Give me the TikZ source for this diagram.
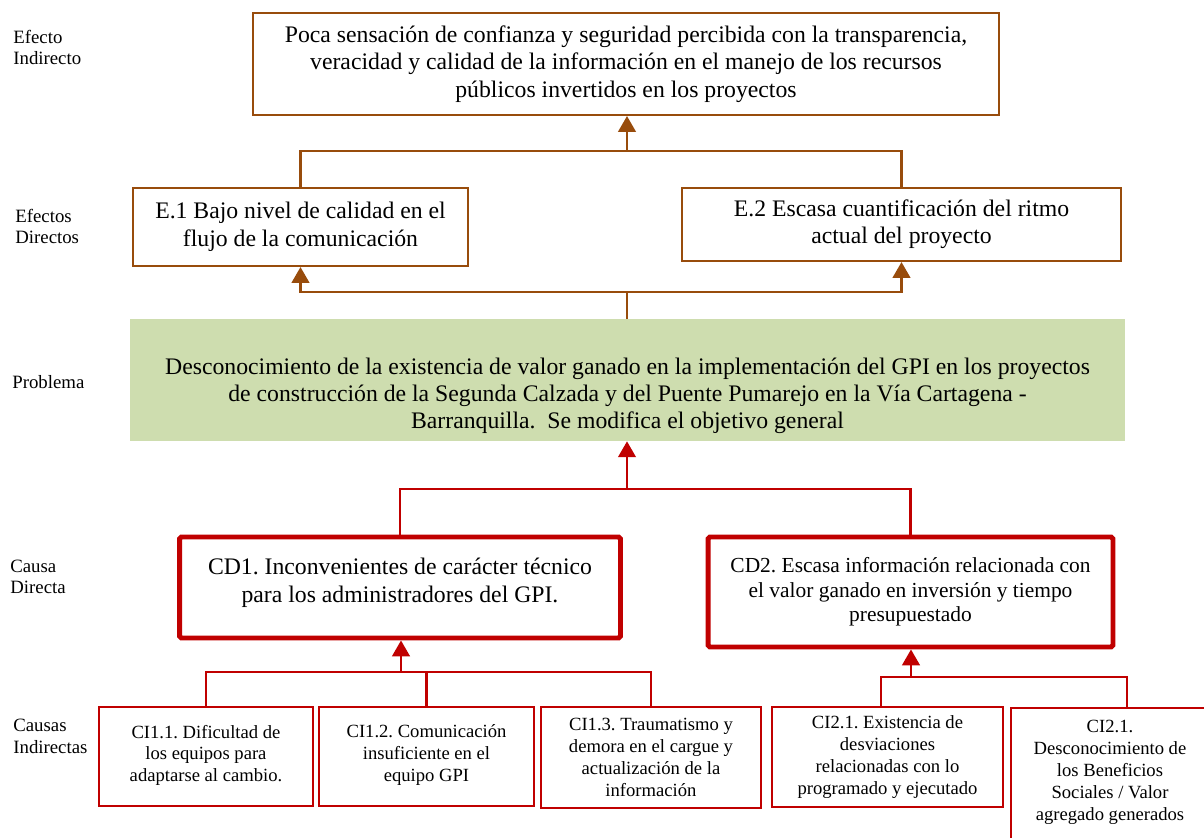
\documentclass[tikz,border=0pt]{standalone}
\usepackage{fontspec}
\setmainfont{Liberation Serif}
\frenchspacing
\usetikzlibrary{arrows.meta}
\definecolor{cafe}{RGB}{152,76,12}
\definecolor{rojo}{RGB}{192,0,0}
\definecolor{verde}{RGB}{206,221,175}
\tikzset{
	efecto/.style={draw=cafe, line width=1.2pt, align=center, inner sep=0pt,
		font=\fontsize{13.5}{15.6}\selectfont},
	directa/.style={draw=rojo, line width=2.8pt, rounded corners=1pt, align=center, inner sep=0pt},
	indirecta/.style={draw=rojo, line width=1.3pt, align=center, inner sep=0pt,
		font=\fontsize{10.6}{12.5}\selectfont},
	nivel/.style={anchor=west, align=left, inner sep=0pt, font=\fontsize{10.7}{12.3}\selectfont},
	lineacafe/.style={draw=cafe, line width=1.3pt},
	flechacafe/.style={lineacafe, -{Triangle[width=10pt,length=9pt]}},
	linearoja/.style={draw=rojo, line width=1.3pt},
	flecharoja/.style={linearoja, -{Triangle[width=10pt,length=9pt]}}
}
\begin{document}
\begin{tikzpicture}[x=0.02cm, y=-0.02cm]
	\useasboundingbox (0,0) rectangle (1204,838);
	% niveles
	\node[nivel] (lefi) at (13,47.5) {Efecto\\Indirecto};
	\node[nivel] (lefd) at (15,226.5) {Efectos\\Directos};
	\node[nivel] (lprob) at (12,382) {Problema};
	\node[nivel] (lcd) at (10,577) {Causa\\Directa};
	\node[nivel] (lci) at (13,736.5) {Causas\\Indirectas};
	% efectos
	\node[efecto, minimum width=14.92cm, minimum height=2.04cm] (efi) at (626,64)
		{Poca sensación de confianza y seguridad percibida con la transparencia,\\
		veracidad y calidad de la información en el manejo de los recursos\\
		públicos invertidos en los proyectos};
	\node[efecto, minimum width=6.7cm, minimum height=1.56cm] (e1) at (300.5,227)
		{E.1 Bajo nivel de calidad en el\\flujo de la comunicación};
	\node[efecto, minimum width=8.78cm, minimum height=1.46cm] (e2) at (901.5,224.5)
		{E.2 Escasa cuantificación del ritmo\\actual del proyecto};
	% problema
	\node[fill=verde, minimum width=19.9cm, minimum height=2.44cm, inner sep=0pt] (prob) at (627.5,380) {};
	\node[align=center, font=\fontsize{13.5}{15.4}\selectfont] (probtext) at (627.5,396)
		{Desconocimiento de la existencia de valor ganado en la implementación del GPI en los proyectos\\
		de construcción de la Segunda Calzada y del Puente Pumarejo en la Vía Cartagena -\\
		Barranquilla.\ \ Se modifica el objetivo general};
	% causas directas
	\node[directa, minimum width=8.82cm, minimum height=2.02cm,
		font=\fontsize{13.5}{15.9}\selectfont] (cd1) at (400,587.5)
		{CD1. Inconvenientes de carácter técnico\\para los administradores del GPI.\\[-7.4pt]};
	\node[directa, minimum width=8.1cm, minimum height=2.2cm,
		font=\fontsize{12.2}{13.9}\selectfont] (cd2) at (910.5,592)
		{CD2. Escasa información relacionada con\\el valor ganado en inversión y tiempo\\presupuestado};
	% causas indirectas
	\node[indirecta, minimum width=4.28cm, minimum height=1.98cm] (ci11) at (206,756.5)
		{CI1.1. Dificultad de\\los equipos para\\adaptarse al cambio.\\[-9pt]};
	\node[indirecta, minimum width=4.3cm, minimum height=1.98cm] (ci12) at (426.5,756.5)
		{CI1.2. Comunicación\\insuficiente en el\\equipo GPI\\[-9pt]};
	\node[indirecta, minimum width=4.4cm, minimum height=2.02cm] (ci13) at (651,757.5)
		{CI1.3. Traumatismo y\\demora en el cargue y\\actualización de la\\información};
	\node[indirecta, minimum width=4.62cm, minimum height=2cm] (ci21) at (887.5,757)
		{CI2.1. Existencia de\\desviaciones\\relacionadas con lo\\programado y ejecutado};
	\node[indirecta, minimum width=3.96cm, minimum height=3.2cm, anchor=north] (ci22) at (1110,707) {};
	\node[align=center, font=\fontsize{10.6}{12.5}\selectfont] (ci22text) at (1110,772)
		{CI2.1.\\Desconocimiento de\\los Beneficios\\Sociales / Valor\\agregado generados};
	% conectores efectos
	\coordinate (jefi) at (627,151);
	\draw[lineacafe] (e1.north) |- (jefi) -| (e2.north);
	\draw[flechacafe] (jefi) -- (jefi |- efi.south);
	\coordinate (jprob) at (627,292);
	\draw[lineacafe] (jprob |- prob.north) -- (jprob);
	\draw[flechacafe] (jprob) -| (e1.south);
	\draw[flechacafe] (jprob) -| (e2.south);
	% conectores causas
	\coordinate (jcd) at (627,489);
	\draw[flecharoja] (jcd) -- (jcd |- prob.south);
	\draw[linearoja] (cd1.north) |- (jcd) -| (cd2.north);
	\coordinate (jci1) at (401,672);
	\draw[flecharoja] (jci1) -- (jci1 |- cd1.south);
	\draw[linearoja] (ci11.north) |- (jci1) -| (ci13.north);
	\draw[linearoja] (ci12.north) -- (ci12.north |- jci1);
	\coordinate (jci2) at (911,677);
	\draw[flecharoja] (jci2) -- (jci2 |- cd2.south);
	\draw[linearoja] ([xshift=-0.13cm]ci21.north) |- (jci2) -| ([xshift=0.34cm]ci22.north);
\end{tikzpicture}
\end{document}
